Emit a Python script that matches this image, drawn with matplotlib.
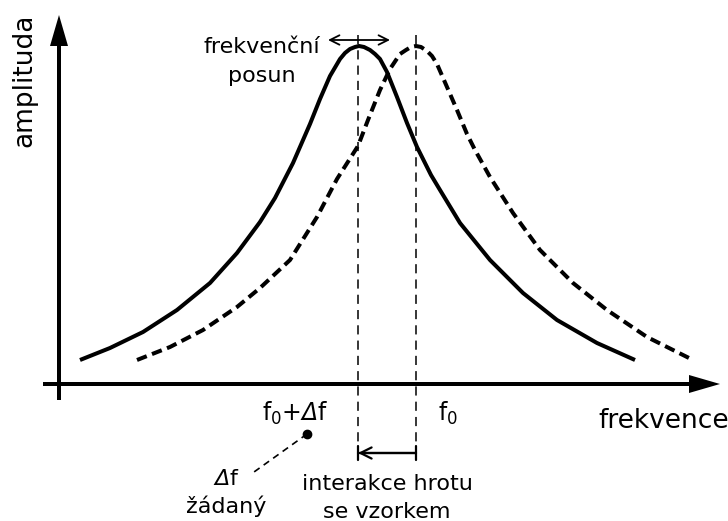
import matplotlib
matplotlib.use("Agg")
import matplotlib.pyplot as plt

plt.rcParams['font.family'] = ['DejaVu Sans']
plt.rcParams['mathtext.fontset'] = 'custom'
plt.rcParams['mathtext.rm'] = 'DejaVu Sans'
# sans-serif slot used for the slanted capital delta
plt.rcParams['mathtext.sf'] = 'DejaVu Sans:italic'

# resonance curve with tip-sample interaction (solid) and free resonance at f0 (dashed)
solid_f = [21, 51, 84, 118, 151, 178, 201, 216, 234, 251, 261, 271, 281, 286, 291,
           296, 300, 305, 311, 316, 321, 328, 338, 348, 358, 372, 381, 401, 431,
           464, 498, 538, 576]
solid_a = [24, 36, 52, 74, 101, 131, 162, 186, 221, 260, 285, 308, 325, 331, 335,
           337, 338, 337, 334, 330, 325, 312, 287, 261, 237, 209, 194, 161, 124,
           91, 64, 41, 24]

dashed_f = [78, 111, 144, 178, 201, 231, 258, 278, 299, 309, 321, 331, 341, 347, 352,
            357, 362, 368, 373, 378, 388, 398, 408, 416, 431, 454, 481, 514, 548,
            588, 634]
dashed_a = [24, 37, 54, 77, 96, 124, 167, 205, 238, 264, 294, 315, 330, 334, 337,
            338, 337, 333, 328, 320, 297, 274, 250, 234, 207, 171, 134, 101, 74,
            47, 24]

f_shift = 299   # f0 + delta f
f_0 = 357       # f0
setpoint = (248, -50)

fig = plt.figure(figsize=(7.28, 5.21), dpi=100)
ax = fig.add_axes([0, 0, 1, 1])
ax.set_xlim(-59, 669)
ax.set_ylim(-137, 384)
ax.axis('off')

# axes with arrow heads
ax.arrow(0, -16, 0, 385, width=4, head_width=18, head_length=31,
         length_includes_head=True, fc='k', ec='none')
ax.arrow(-16, 0, 677, 0, width=4, head_width=18, head_length=31,
         length_includes_head=True, fc='k', ec='none')

ax.plot(solid_f, solid_a, color='k', lw=2.9, solid_capstyle='butt', solid_joinstyle='round')
ax.plot(dashed_f, dashed_a, color='k', lw=2.9, dashes=(2.6, 1.4), dash_capstyle='butt')

# marker lines at the two peak frequencies
for f in (f_shift, f_0):
    ax.plot([f, f], [349, -72], color='k', lw=1.1, dashes=(6, 4))

# frequency shift arrow
ax.annotate('', xy=(269, 344), xytext=(331, 344),
            arrowprops=dict(arrowstyle='<->', lw=1.3, color='k', shrinkA=0, shrinkB=0,
                            mutation_scale=17))
# interaction arrow
ax.annotate('', xy=(f_shift, -69), xytext=(f_0, -69),
            arrowprops=dict(arrowstyle='->', lw=1.6, color='k', shrinkA=0, shrinkB=0,
                            mutation_scale=20))
ax.annotate('', xy=(f_shift, -69), xytext=(f_0, -69),
            arrowprops=dict(arrowstyle='|-|, widthA=0.25, widthB=0.25', lw=1.6, color='k',
                            shrinkA=0, shrinkB=0, mutation_scale=20))

# set-point marker
ax.plot(*setpoint, 'o', color='k', ms=6)
ax.plot([setpoint[0], 195], [setpoint[1], -88], color='k', lw=1.2, dashes=(4, 3))

ax.text(-35, 304, 'amplituda', rotation=90, ha='center', va='center', fontsize=19)
ax.text(605, -44, 'frekvence', ha='center', va='baseline', fontsize=19)
ax.text(203, 331, 'frekvenční', ha='center', va='baseline', fontsize=16)
ax.text(203, 302, 'posun', ha='center', va='baseline', fontsize=16)
ax.text(236, -37, r'f$_0$+$\mathsf{\Delta}$f', ha='center', va='baseline', fontsize=17)
ax.text(389, -37, r'f$_0$', ha='center', va='baseline', fontsize=17)
ax.text(167, -101, r'$\mathsf{\Delta}$f', ha='center', va='baseline', fontsize=16)
ax.text(167, -129, 'žádaný', ha='center', va='baseline', fontsize=16)
ax.text(328, -106, 'interakce hrotu', ha='center', va='baseline', fontsize=16)
ax.text(328, -134, 'se vzorkem', ha='center', va='baseline', fontsize=16)

fig.savefig('out.png', dpi=100)
